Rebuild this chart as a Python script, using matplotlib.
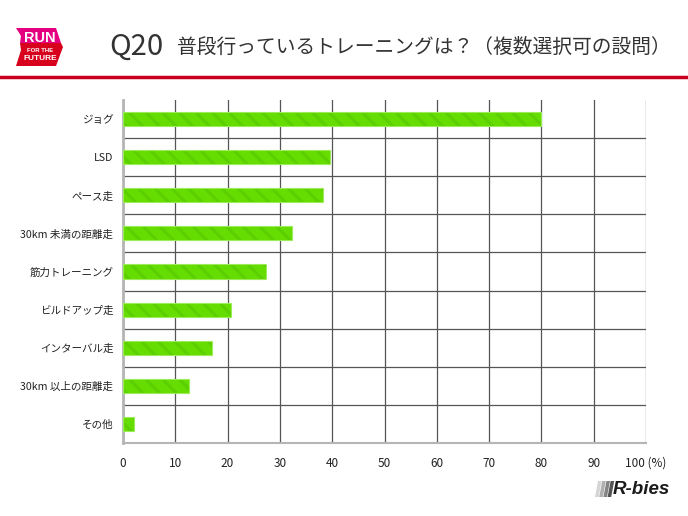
import matplotlib.pyplot as plt
from matplotlib.patches import Polygon
from matplotlib.lines import Line2D
import numpy as np

plt.rcParams['font.family'] = ['Noto Sans CJK JP', 'DejaVu Sans']
plt.rcParams['hatch.linewidth'] = 2.2

# データ
categories = ['ジョグ', 'LSD', 'ペース走', '30km 未満の距離走', '筋力トレーニング',
              'ビルドアップ走', 'インターバル走', '30km 以上の距離走', 'その他']
values = [79.9, 39.6, 38.2, 32.4, 27.4, 20.6, 17.0, 12.7, 2.1]
xticks = [0, 10, 20, 30, 40, 50, 60, 70, 80, 90, 100]
xlabels = ['0', '10', '20', '30', '40', '50', '60', '70', '80', '90', '100 (%)']

W, H = 688, 516
fig = plt.figure(figsize=(W / 100, H / 100), dpi=100)


def fx(x):
    return x / W


def fy(y):
    return 1 - y / H


ax = fig.add_axes([fx(123), fy(443), fx(646) - fx(123), fy(100) - fy(443)])

y = np.arange(len(categories))
ax.barh(y, values, height=0.37, color='#66dd00', edgecolor='#5bcf00',
        hatch='\\\\', linewidth=0, zorder=3)
ax.barh(y, values, height=0.37, facecolor='none', edgecolor='#9cec5a',
        linewidth=0.8, zorder=4)

ax.set_xlim(0, 100)
ax.set_ylim(len(categories) - 0.5, -0.5)
ax.set_yticks(y)
ax.set_yticklabels(categories, fontsize=7.6, color='#222222')
ax.set_xticks(xticks)
ax.set_xticklabels(xlabels, fontsize=8.5, color='#222222')
ax.set_yticks(np.arange(0.5, len(categories) - 0.5, 1), minor=True)
ax.tick_params(axis='both', which='both', length=0)
ax.tick_params(axis='y', pad=7)
ax.tick_params(axis='x', pad=10)

ax.grid(axis='x', which='major', color='#555555', linewidth=0.9, zorder=1)
ax.grid(axis='y', which='minor', color='#555555', linewidth=0.9, zorder=1)
ax.grid(axis='y', which='major', visible=False)

for s in ['top', 'right']:
    ax.spines[s].set_visible(False)
ax.spines['left'].set_color('#b5b5b5')
ax.spines['left'].set_linewidth(2)
ax.spines['bottom'].set_color('#b5b5b5')
ax.spines['bottom'].set_linewidth(1.5)

# タイトル
fig.text(fx(109), fy(47), 'Q20', fontsize=21, color='#333333',
         va='center', ha='left', family=['Noto Sans CJK JP'])
fig.text(fx(177), fy(47), '普段行っているトレーニングは？（複数選択可の設問）',
         fontsize=14.2, color='#333333', va='center', ha='left')

# 赤い線
fig.add_artist(Line2D([0, 1], [fy(77), fy(77)], color='#c8001e', linewidth=2.5,
                      transform=fig.transFigure))

# ロゴ (RUN FOR THE FUTURE)
logo_top = Polygon([(fx(a), fy(b)) for a, b in [(16, 28), (56, 28), (61, 43), (20, 43), (21, 36)]],
                   closed=True, transform=fig.transFigure, color='#e5007f', linewidth=0)
logo_bot = Polygon([(fx(a), fy(b)) for a, b in [(20, 43), (61, 43), (63, 47), (56, 66), (16, 66), (21, 50)]],
                   closed=True, transform=fig.transFigure, color='#d7001d', linewidth=0)
fig.add_artist(logo_top)
fig.add_artist(logo_bot)
fig.text(fx(40), fy(38.5), 'RUN', fontsize=10.5, color='white', fontweight='bold',
         ha='center', va='center', family=['Liberation Sans'])
fig.text(fx(40), fy(51), 'FOR THE', fontsize=4.3, color='white', fontweight='bold',
         ha='center', va='center', family=['Liberation Sans'])
fig.text(fx(40), fy(58.5), 'FUTURE', fontsize=6, color='white', fontweight='bold',
         ha='center', va='center', family=['Liberation Sans'])

# ロゴ (R-bies)
stripe_cols = ['#d5d5d5', '#b0b0b0', '#858585', '#555555']
for i, c in enumerate(stripe_cols):
    x0 = 595 + i * 4.2
    pts = [(x0 + 3, 481), (x0 + 6.6, 481), (x0 + 3.6, 497), (x0, 497)]
    fig.add_artist(Polygon([(fx(a), fy(b)) for a, b in pts], closed=True,
                           transform=fig.transFigure, color=c, linewidth=0))
fig.text(fx(613), fy(489.5), 'R-bies', fontsize=13.5, color='#1a1a1a',
         fontweight='bold', fontstyle='italic', ha='left', va='center',
         family=['Liberation Sans'])

fig.savefig('out.png', dpi=100)
